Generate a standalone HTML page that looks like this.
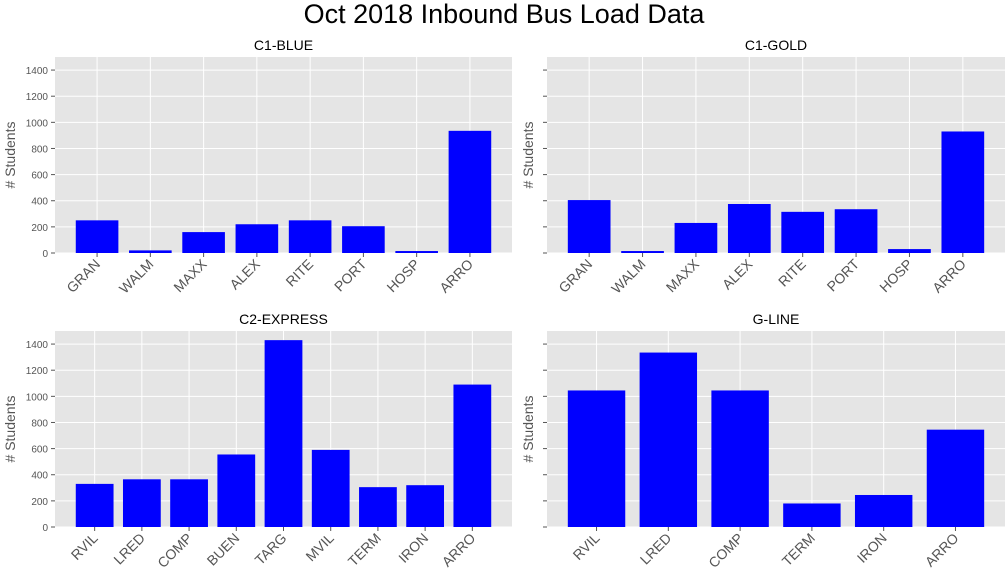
<!DOCTYPE html>
<html><head><meta charset="utf-8"><style>
body{margin:0;background:#fff;}
svg{display:block;font-family:"Liberation Sans","DejaVu Sans",sans-serif;}
</style></head><body>
<svg id="c" width="1008" height="576">
<text x="504" y="23" text-anchor="middle" font-size="27" fill="#000">Oct 2018 Inbound Bus Load Data</text>
</svg>
<script>
const catsBlue=["GRAN","WALM","MAXX","ALEX","RITE","PORT","HOSP","ARRO"];
const valsBlue=[250,20,160,220,250,205,15,935];
const catsGold=["GRAN","WALM","MAXX","ALEX","RITE","PORT","HOSP","ARRO"];
const valsGold=[405,15,230,375,315,335,30,930];
const catsExp=["RVIL","LRED","COMP","BUEN","TARG","MVIL","TERM","IRON","ARRO"];
const valsExp=[330,365,365,555,1430,590,305,320,1090];
const catsG=["RVIL","LRED","COMP","TERM","IRON","ARRO"];
const valsG=[1045,1335,1045,180,245,745];
const yTicks=[0,200,400,600,800,1000,1200,1400];
const NS="http://www.w3.org/2000/svg";
const svg=document.getElementById('c');
function mk(t,a,p){const e=document.createElementNS(NS,t);for(const k in a)e.setAttribute(k,a[k]);(p||svg).appendChild(e);return e;}
function panel(title,cats,vals,x0,y0,w,h,showLabels,key){
  const g=mk('g',{});
  
  
  mk('rect',{x:x0,y:y0,width:w,height:h,fill:'#e5e5e5'},g);
  const n=cats.length, span=(n-1+0.8), m=span*0.05;
  const xmin=-0.4-m, xmax=n-1+0.4+m;
  const X=v=>x0+(v-xmin)/(xmax-xmin)*w;
  const Y=v=>y0+h-v/1500*h;
  yTicks.forEach(t=>{
    mk('line',{x1:x0,x2:x0+w,y1:Y(t),y2:Y(t),stroke:'#fff','stroke-width':1},g);
    mk('line',{x1:x0-4,x2:x0,y1:Y(t),y2:Y(t),stroke:'#555'},g);
    if(showLabels){const tx=mk('text',{x:x0-7,y:Y(t)+4,'text-anchor':'end','font-size':10,fill:'#555'},g);tx.textContent=t;
      
      }
  });
  cats.forEach((c,i)=>mk('line',{x1:X(i),x2:X(i),y1:y0,y2:y0+h,stroke:'#fff','stroke-width':1},g));
  cats.forEach((c,i)=>{
    const r=mk('rect',{x:X(i-0.4),y:Y(vals[i]),width:X(i+0.4)-X(i-0.4),height:Y(0)-Y(vals[i]),fill:'#0000ff'},g);
    
    
    mk('line',{x1:X(i),x2:X(i),y1:y0+h,y2:y0+h+4,stroke:'#555'},g);
    const t=mk('text',{x:X(i)+4,y:y0+h+12,'text-anchor':'end','font-size':14,fill:'#555',transform:`rotate(-45 ${X(i)+4} ${y0+h+12})`},g);
    t.textContent=c;
    
    
  });
  const tt=mk('text',{x:x0+w/2,y:y0-7,'text-anchor':'middle','font-size':14,fill:'#000'},g);tt.textContent=title;
  
  
  const yl=mk('text',{x:0,y:0,'text-anchor':'middle','font-size':14,fill:'#555',transform:`translate(${x0-(showLabels?40:14)} ${y0+h/2}) rotate(-90)`},g);yl.textContent='# Students';
  
  
}
panel('C1-BLUE',catsBlue,valsBlue,55,57,457,196,true,'c1-blue');
panel('C1-GOLD',catsGold,valsGold,547,57,458,196,false,'c1-gold');
panel('C2-EXPRESS',catsExp,valsExp,55,331,457,196,true,'c2-express');
panel('G-LINE',catsG,valsG,547,331,458,196,false,'g-line');
</script>
</body></html>
